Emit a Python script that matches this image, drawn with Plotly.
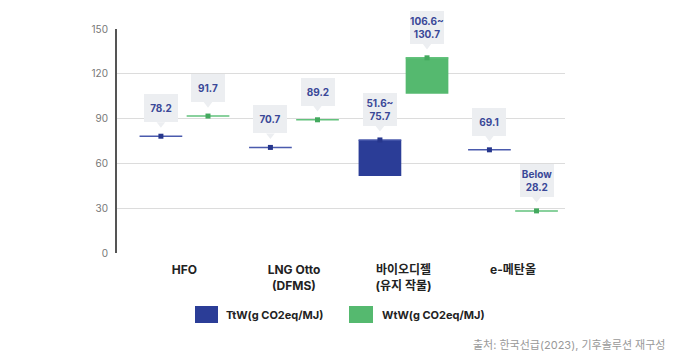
import plotly.graph_objects as go

categories = ["HFO", "LNG Otto<br>(DFMS)", "바이오디젤<br>(유지 작물)", "e-메탄올"]
ttw_low = [78.2, 70.7, 51.6, 69.1]
ttw_high = [78.2, 70.7, 75.7, 69.1]
wtw_low = [91.7, 89.2, 106.6, 28.2]
wtw_high = [91.7, 89.2, 130.7, 28.2]
ttw_labels = ["78.2", "70.7", "51.6~<br>75.7", "69.1"]
wtw_labels = ["91.7", "89.2", "106.6~<br>130.7", "Below<br>28.2"]
y_ticks = [0, 30, 60, 90, 120, 150]

FONT = "Inter, 'Noto Sans CJK KR', sans-serif"
PAGE_OFF = 8  # default page body margin
W, H = 700 - PAGE_OFF, 360 - PAGE_OFF
# plot area in window pixels: x 117..565, y 29..253
PL, PR, PT, PB = 117, 565, 29, 253
ML, MT = PL - PAGE_OFF, PT - PAGE_OFF
MR, MB = W - (PR - PAGE_OFF), H - (PB - PAGE_OFF)
plot_w, plot_h = PR - PL, PB - PT
y_range = [0, 150]
px_per_unit = plot_h / (y_range[1] - y_range[0])

series = [
    dict(name="TtW(g CO2eq/MJ)", low=ttw_low, high=ttw_high, labels=ttw_labels,
         offset=-0.41, bar="#2b3d97", line="#4a5aad", mark="#26368c"),
    dict(name="WtW(g CO2eq/MJ)", low=wtw_low, high=wtw_high, labels=wtw_labels,
         offset=0.02, bar="#55b96f", line="#62c27c", mark="#43a95e"),
]
bw = 0.39
xs = list(range(len(categories)))

fig = go.Figure()
annotations = []
for s in series:
    fig.add_trace(go.Bar(
        x=xs, y=[h - l for l, h in zip(s["low"], s["high"])], base=s["low"],
        offset=s["offset"], width=bw, marker=dict(color=s["bar"], line=dict(width=0)),
        showlegend=False, hoverinfo="skip"))
    lx, ly = [], []
    for i, v in zip(xs, s["high"]):
        lx += [i + s["offset"], i + s["offset"] + bw, None]
        ly += [v, v, None]
    fig.add_trace(go.Scatter(x=lx, y=ly, mode="lines", line=dict(color=s["line"], width=1.5),
                             showlegend=False, hoverinfo="skip"))
    cx = [i + s["offset"] + bw / 2 for i in xs]
    fig.add_trace(go.Scatter(x=cx, y=s["high"], mode="markers",
                             marker=dict(symbol="square", size=5, color=s["mark"]),
                             showlegend=False, hoverinfo="skip"))
    # callout pointers
    fig.add_trace(go.Scatter(x=cx, y=[v + 12.1 / px_per_unit for v in s["high"]], mode="markers",
                             marker=dict(symbol="triangle-down", size=7.5, color="#eceef1",
                                         line=dict(width=0)),
                             showlegend=False, hoverinfo="skip"))
    for x, v, t in zip(cx, s["high"], s["labels"]):
        two = "<br>" in t
        annotations.append(dict(
            x=x, y=v, xref="x", yref="y", text=t, showarrow=False,
            yanchor="bottom", yshift=14, width=34, height=33 if two else 28,
            bgcolor="#eceef1", borderpad=0, borderwidth=0,
            font=dict(family=FONT, size=10, color="#3a4898", weight="bold")))

# manual legend (window pixel positions -> paper coords)
def px2x(px):
    return (px - PL) / plot_w

def px2y(py):
    return (PB - py) / plot_h

shapes = [
    dict(type="rect", xref="paper", yref="paper", x0=px2x(195), x1=px2x(218),
         y0=px2y(323), y1=px2y(306), fillcolor=series[0]["bar"], line=dict(width=0)),
    dict(type="rect", xref="paper", yref="paper", x0=px2x(349), x1=px2x(373),
         y0=px2y(323), y1=px2y(306), fillcolor=series[1]["bar"], line=dict(width=0)),
]
annotations.append(dict(x=px2x(224), y=px2y(314.5), xref="paper", yref="paper",
                        text=series[0]["name"], showarrow=False, xanchor="left", yanchor="middle",
                        font=dict(family=FONT, size=11, color="#222", weight="bold")))
annotations.append(dict(x=px2x(380), y=px2y(314.5), xref="paper", yref="paper",
                        text=series[1]["name"], showarrow=False, xanchor="left", yanchor="middle",
                        font=dict(family=FONT, size=11, color="#222", weight="bold")))
annotations.append(dict(x=px2x(667), y=px2y(345), xref="paper", yref="paper",
                        text="출처: 한국선급(2023), 기후솔루션 재구성", showarrow=False,
                        xanchor="right", yanchor="middle",
                        font=dict(family=FONT, size=11, color="#999999")))

fig.update_layout(
    width=W, height=H, margin=dict(l=ML, r=MR, t=MT, b=MB),
    paper_bgcolor="white", plot_bgcolor="white", barmode="overlay",
    showlegend=False, shapes=shapes, annotations=annotations,
    font=dict(family=FONT),
)
fig.update_xaxes(range=[-0.616, 3.475], tickvals=xs, ticktext=categories,
                 showgrid=False, zeroline=False, showline=False,
                 ticks="outside", ticklen=6, tickcolor="rgba(0,0,0,0)",
                 tickfont=dict(family=FONT, size=12, color="#222", weight="bold"))
fig.update_yaxes(range=y_range, tickvals=y_ticks, showgrid=True, gridcolor="#dcdcdc",
                 gridwidth=1, zeroline=False, showline=True, linecolor="#555", linewidth=2,
                 ticks="outside", ticklen=5, tickcolor="rgba(0,0,0,0)",
                 tickfont=dict(family=FONT, size=10, color="#777"))

fig.write_html("out.html")
